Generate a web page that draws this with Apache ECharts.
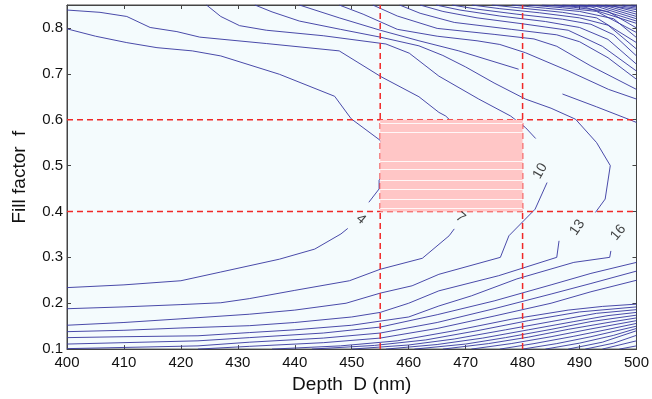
<!DOCTYPE html>
<html>
<head>
<meta charset="utf-8">
<script src="https://cdn.jsdelivr.net/npm/echarts@6/dist/echarts.min.js"></script>
<style>
  html, body {margin: 0; padding: 0; background: #fff;}
  #main {width: 652px; height: 399px;}
</style>
</head>
<body>
<div id="main"></div>
<script>
// axis ranges and reference marks
const depthRange = [400, 500];
const fillRange = [0.1, 0.85];
const refDepths = [455, 480];
const refFills = [0.4, 0.6];
const stripeFills = [0.408, 0.427, 0.449, 0.468, 0.491, 0.510, 0.573, 0.592];

// contour lines, [depth, fill] pairs, one array per visible segment
const contour4 = [
  [[400,0.234],[410,0.240],[420,0.249],[427,0.268],[437.3,0.296],[443.5,0.318],[448.1,0.351],[449.3,0.363]],
  [[453,0.42],[454.8,0.449],[454.8,0.468],[457,0.5],[455,0.555],[449.9,0.602],[447,0.651],[437.3,0.699],[427,0.739],[422,0.750],[415.8,0.757],[410.5,0.768],[405,0.782],[400,0.798]]
];
const contour7 = [
  [[400,0.188],[410,0.192],[420,0.197],[427,0.201],[432,0.21],[440,0.228],[449.6,0.249],[455,0.274],[462.4,0.298],[467.1,0.347],[468,0.362]],
  [[470,0.41],[472,0.5],[468,0.59],[466.5,0.608],[465.3,0.616],[461.8,0.65],[455.1,0.694],[447.8,0.75],[435,0.766],[423.3,0.78],[419.3,0.792],[414.6,0.801],[410.5,0.825],[405.8,0.834],[400,0.839]]
];
const contour10 = [
  [[400,0.152],[410,0.158],[420,0.166],[432,0.176],[440,0.185],[449,0.2],[455,0.222],[460.6,0.238],[465.3,0.263],[476.1,0.30],[477.6,0.347],[482.2,0.405],[484.3,0.463]],
  [[482.3,0.559],[480.5,0.583],[477.9,0.608],[472.3,0.645],[465.3,0.695],[460.1,0.745],[456,0.765],[445,0.783],[435,0.795],[430.3,0.805],[427,0.825],[424.5,0.85]]
];
const contour13 = [
  [[400,0.138],[410,0.141],[420,0.146],[432,0.151],[440,0.158],[450,0.17],[455,0.18],[460,0.2],[465.3,0.227],[475.8,0.26],[486,0.30],[486.4,0.336]],
  [[492.8,0.398],[494.5,0.427],[495.4,0.50],[493,0.55],[489.3,0.601],[485,0.625],[480.5,0.645],[475,0.68],[470,0.715],[466,0.74],[461.8,0.761],[455,0.78],[448,0.797],[440.8,0.815],[436,0.835],[433,0.85]]
];
const contour16 = [
  [[400,0.125],[410,0.127],[423,0.129],[432,0.136],[440,0.142],[450,0.152],[460,0.17],[465.3,0.194],[471,0.216],[479,0.253],[489,0.289],[495.3,0.30],[495.5,0.314]]
];
const upperLines = [
  [[440.8,0.85],[447.8,0.822],[455,0.795],[461.8,0.772],[468.8,0.75],[479.3,0.71]],
  [[487,0.656],[493,0.628],[498.6,0.601],[500,0.594]],
  [[447.8,0.85],[452,0.83],[458,0.797],[465,0.782],[472,0.772],[476,0.764],[480.5,0.746],[488.1,0.706],[495.1,0.666],[500,0.645]],
  [[453.7,0.85],[458,0.826],[465,0.799],[475,0.786],[482,0.776],[486,0.76],[492,0.717],[500,0.666]],
  [[458.4,0.85],[462,0.832],[468,0.812],[478,0.797],[486,0.785],[490,0.77],[495,0.735],[500,0.688]],
  [[462,0.85],[466,0.836],[472,0.822],[480,0.809],[488,0.795],[494,0.76],[500,0.706]],
  [[464.8,0.85],[469,0.839],[476,0.826],[484,0.814],[490,0.801],[495,0.775],[500,0.721]],
  [[467.6,0.85],[472,0.841],[479,0.83],[487,0.819],[492,0.808],[496,0.785],[500,0.739]],
  [[471.1,0.85],[476,0.842],[483,0.833],[490,0.822],[495,0.806],[500,0.754]],
  [[474.6,0.85],[480,0.843],[487,0.834],[493,0.822],[500,0.768]],
  [[478.1,0.85],[484,0.843],[490,0.836],[496,0.82],[500,0.779]],
  [[481.1,0.85],[487,0.844],[493,0.836],[500,0.79]],
  [[483.4,0.85],[489,0.845],[495,0.836],[500,0.80]],
  [[485.5,0.85],[491,0.845],[500,0.81]],
  [[487,0.85],[492,0.846],[500,0.815]],
  [[488.5,0.85],[493,0.847],[500,0.82]],
  [[490,0.85],[494,0.847],[500,0.825]],
  [[491.5,0.85],[495,0.847],[500,0.83]],
  [[493,0.85],[496,0.847],[500,0.835]],
  [[494.5,0.85],[500,0.84]],
  [[496,0.85],[500,0.843]],
  [[497.5,0.85],[500,0.846]],
  [[499,0.85],[500,0.849]]
];
const lowerLines = [
  [[400,0.111],[423,0.118],[432,0.125],[445,0.135],[455,0.148],[465,0.175],[475,0.205],[485,0.24],[492,0.265],[500,0.289]],
  [[400,0.101],[423,0.107],[432,0.115],[445,0.124],[455,0.135],[465,0.158],[475,0.188],[485,0.22],[492,0.243],[500,0.27]],
  [[423,0.1],[432,0.106],[445,0.114],[455,0.124],[465,0.145],[475,0.172],[485,0.2],[492,0.225],[500,0.25]],
  [[436,0.1],[448,0.107],[458,0.118],[468,0.14],[478,0.165],[488,0.185],[494,0.193],[500,0.198]],
  [[443,0.1],[454,0.108],[463,0.12],[472,0.14],[481,0.162],[490,0.181],[500,0.192]],
  [[450,0.1],[460,0.109],[468,0.122],[477,0.142],[485,0.16],[493,0.178],[500,0.186]],
  [[456,0.1],[465,0.11],[473,0.124],[481,0.142],[489,0.16],[495,0.173],[500,0.18]],
  [[461,0.1],[470,0.111],[477,0.125],[485,0.143],[492,0.16],[500,0.174]],
  [[466,0.1],[474,0.112],[481,0.126],[488,0.143],[495,0.158],[500,0.168]],
  [[471,0.1],[478,0.112],[485,0.127],[492,0.144],[500,0.162]],
  [[476,0.1],[482,0.112],[489,0.128],[495,0.143],[500,0.156]],
  [[480,0.1],[486,0.112],[492,0.127],[500,0.15]],
  [[484,0.1],[490,0.113],[496,0.13],[500,0.145]],
  [[488,0.1],[494,0.115],[500,0.14]],
  [[491,0.1],[496,0.113],[500,0.13]],
  [[494,0.1],[500,0.118]],
  [[497,0.1],[500,0.107]]
];

// contour labels
const labelTexts = ['4', '7', '10', '13', '16'];
const labelPoints = [[451.6,0.383],[469.1,0.387],[483.1,0.488],[489.6,0.365],[496.8,0.354]];
const labelAngles = [-40, -40, 60, 55, 50];

const allSegments = [].concat(contour4, contour7, contour10, contour13, contour16, upperLines, lowerLines);

const chart = echarts.init(document.getElementById('main'), null, {renderer: 'canvas'});

const font = 'Liberation Sans, Arial, sans-serif';
const dashColor = '#f02828';
const axisCommon = {
  type: 'value',
  axisLine: {show: true, lineStyle: {color: '#444', width: 1}},
  axisTick: {show: true, inside: true, length: 4, lineStyle: {color: '#444'}},
  splitLine: {show: false}
};

// dashed guide line across the whole plot at one depth or one fill factor
function guideLine(vertical) {
  return (params, api) => {
    const v = api.value(0);
    const a = vertical ? api.coord([v, fillRange[0]]) : api.coord([depthRange[0], v]);
    const b = vertical ? api.coord([v, fillRange[1]]) : api.coord([depthRange[1], v]);
    return {
      type: 'line',
      shape: {x1: a[0], y1: a[1], x2: b[0], y2: b[1]},
      style: {stroke: dashColor, lineWidth: 1.5, lineDash: [6, 4]}
    };
  };
}

chart.setOption({
  animation: false,
  backgroundColor: '#ffffff',
  grid: {
    left: 67, right: 14, top: 5, bottom: 49,
    show: true, backgroundColor: '#f4fbfd', borderColor: '#444', borderWidth: 1
  },
  xAxis: [
    Object.assign({}, axisCommon, {
      position: 'bottom', min: depthRange[0], max: depthRange[1], interval: 10,
      axisLabel: {color: '#111', fontSize: 15, fontFamily: font, margin: 6},
      name: 'Depth  D (nm)', nameLocation: 'middle', nameGap: 21,
      nameTextStyle: {color: '#111', fontSize: 19, fontFamily: font}
    }),
    Object.assign({}, axisCommon, {
      position: 'top', min: depthRange[0], max: depthRange[1], interval: 10,
      axisLabel: {show: false}
    })
  ],
  yAxis: [
    Object.assign({}, axisCommon, {
      position: 'left', min: fillRange[0], max: fillRange[1], interval: 0.1,
      axisLabel: {color: '#111', fontSize: 15, fontFamily: font, margin: 4,
        formatter: v => v.toFixed(1), showMaxLabel: false},
      name: 'Fill factor  f', nameLocation: 'middle', nameGap: 38,
      nameTextStyle: {color: '#111', fontSize: 19, fontFamily: font}
    }),
    Object.assign({}, axisCommon, {
      position: 'right', min: fillRange[0], max: fillRange[1], interval: 0.1,
      axisLabel: {show: false}
    })
  ],
  series: [
    {
      name: 'contours',
      type: 'lines',
      coordinateSystem: 'cartesian2d',
      polyline: true,
      silent: true,
      z: 2,
      lineStyle: {color: '#3636a0', width: 1, opacity: 0.9},
      data: allSegments.map(seg => ({coords: seg}))
    },
    {
      name: 'reference depths',
      type: 'custom',
      silent: true,
      z: 3,
      data: refDepths.map(d => [d]),
      renderItem: guideLine(true)
    },
    {
      name: 'reference fills',
      type: 'custom',
      silent: true,
      z: 3,
      data: refFills.map(v => [v]),
      renderItem: guideLine(false)
    },
    {
      name: 'target',
      type: 'custom',
      silent: true,
      z: 4,
      data: [[refDepths[0], refFills[0], refDepths[1], refFills[1]]],
      renderItem: (params, api) => {
        const p0 = api.coord([api.value(0), api.value(1)]);
        const p1 = api.coord([api.value(2), api.value(3)]);
        return {
          type: 'rect',
          shape: {x: p0[0], y: p1[1], width: p1[0] - p0[0], height: p0[1] - p1[1]},
          style: {fill: '#ffc6c6'}
        };
      }
    },
    {
      name: 'stripes',
      type: 'lines',
      coordinateSystem: 'cartesian2d',
      silent: true,
      z: 5,
      lineStyle: {color: '#ffffff', width: 1, opacity: 0.85},
      data: stripeFills.map(v => ({coords: [[refDepths[0], v], [refDepths[1], v]]}))
    },
    {
      name: 'labels',
      type: 'scatter',
      silent: true,
      z: 6,
      symbolSize: 0,
      data: labelPoints.map((p, i) => ({value: p, name: labelTexts[i]})),
      label: {
        show: true, position: 'inside', color: '#111', fontSize: 14, fontFamily: font,
        formatter: p => p.name
      },
      labelLayout: params => ({rotate: labelAngles[params.dataIndex]})
    }
  ]
});
</script>
</body>
</html>
